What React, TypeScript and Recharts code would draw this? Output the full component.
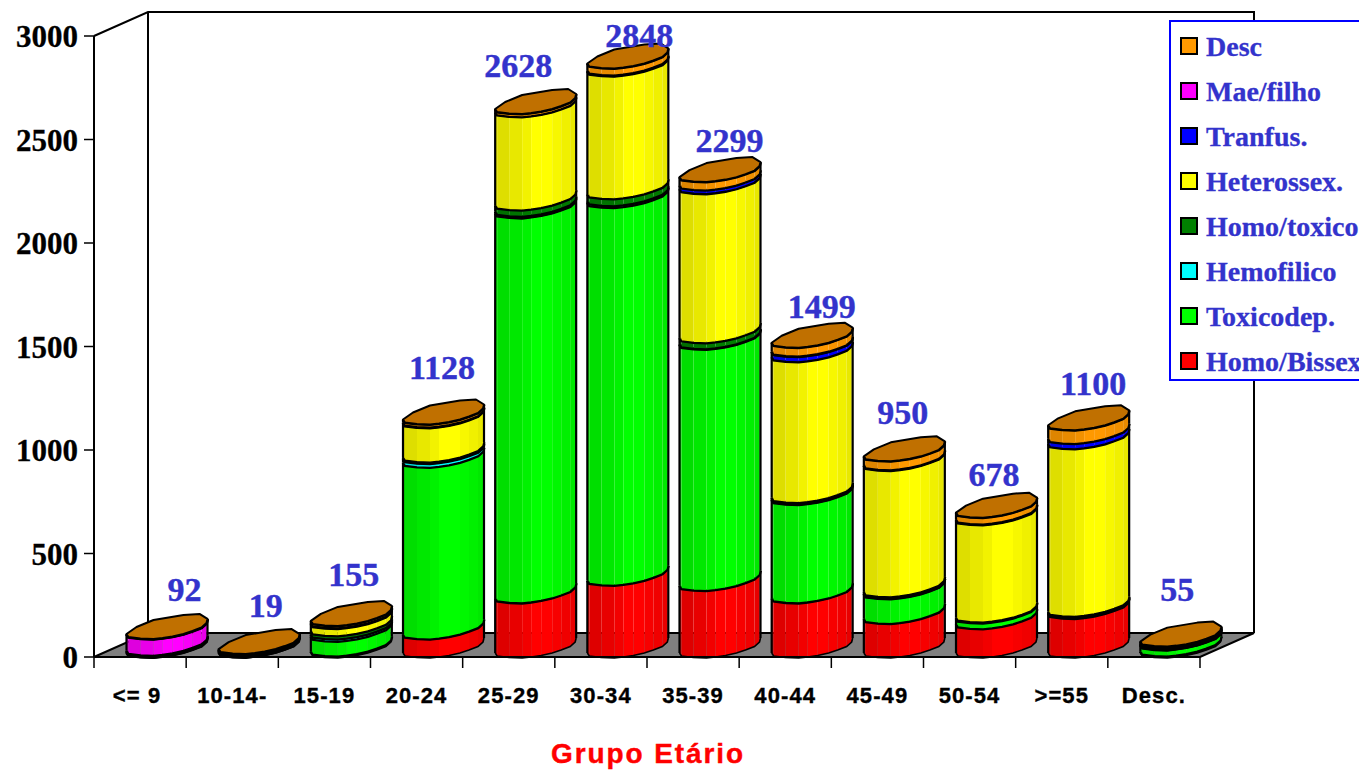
import React from 'react';
import { BarChart, Bar, XAxis, YAxis, Legend, LabelList, Customized } from 'recharts';

const categories = ['<= 9', '10-14-', '15-19', '20-24', '25-29', '30-34', '35-39', '40-44', '45-49', '50-54', '>=55', 'Desc.'];
const totals = [92, 19, 155, 1128, 2628, 2848, 2299, 1499, 950, 678, 1100, 55];
const homoBissex = [0, 0, 8, 90, 265, 350, 325, 265, 165, 140, 190, 8];
const toxicodep = [2, 3, 72, 830, 1860, 1825, 1165, 475, 120, 28, 5, 30];
const hemofilico = [4, 6, 10, 18, 8, 8, 3, 3, 2, 0, 0, 2];
const homoToxico = [0, 0, 16, 8, 30, 34, 29, 7, 8, 4, 5, 5];
const heterossex = [0, 3, 35, 165, 450, 593, 720, 680, 610, 470, 810, 4];
const tranfus = [6, 3, 4, 3, 0, 5, 18, 25, 3, 4, 25, 0];
const maeFilho = [78, 2, 0, 0, 0, 0, 0, 2, 0, 0, 0, 0];
const desc = [2, 2, 10, 14, 15, 33, 39, 42, 42, 32, 65, 6];
const yTicks = [0, 500, 1000, 1500, 2000, 2500, 3000];
const seriesNames = ['Homo/Bissex', 'Toxicodep.', 'Hemofilico', 'Homo/toxico', 'Heterossex.', 'Tranfus.', 'Mae/filho', 'Desc'];
const seriesValues = [homoBissex, toxicodep, hemofilico, homoToxico, heterossex, tranfus, maeFilho, desc];
const seriesColors = ['#ff0000', '#00ff00', '#00ffff', '#008000', '#ffff00', '#0000ff', '#ff00ff', '#ff9900'];
const xTitle = 'Grupo Etário';

const rows = categories.map((c, i) => {
  const r: Record<string, number | string> = { cat: c };
  seriesNames.forEach((n, s) => { r[n] = seriesValues[s][i]; });
  return r;
});

// layout
const L = 94, R = 1200, T = 36, B = 657, DX = 54, DY = 24;
const BAR_SHIFT = 26.5;
const BLUE = '#3333cc';
const SERIF = '"Liberation Serif", serif';
const SANS = '"Liberation Sans", sans-serif';
const CAP = '#c07000';
// label placement relative to bar's left end: [centre offset, rise above top]
const labelNudge = [[58, 37], [47, 36], [43, 39], [39, 45], [23, 36], [52, 20], [50, 29], [50, 29], [39, 36], [38, 31], [45, 34], [37, 45]];

const front = [[0, -4], [2, -1], [14, 0.5], [27, 1], [36, 0], [46, -1.5], [57, -4], [66, -7], [75, -10.5], [80, -15], [81, -19]];
const back = [[73, -24], [57, -23], [27, -18], [10, -11]];
const shade = [0.84, 0.87, 0.91, 0.95, 1, 1, 0.97, 0.94, 0.91, 0.88];

const tint = (hex: string, k: number) => {
  const n = parseInt(hex.slice(1), 16);
  const c = [(n >> 16) & 255, (n >> 8) & 255, n & 255].map((v) => Math.round(v * k));
  return `rgb(${c[0]},${c[1]},${c[2]})`;
};

function Cylinder(props: any) {
  const { x, y, height, fill, isTop } = props;
  if (!(height > 0)) return null;
  const X = x + BAR_SHIFT;
  const edge = (yy: number) => front.map((p) => `${X + p[0]},${yy + p[1]}`).join(' ');
  const capPts = [...front, ...back].map((p) => `${X + p[0]},${y + p[1]}`).join(' ');
  return (
    <g>
      {front.slice(0, -1).map((p, i) => {
        const q = front[i + 1];
        const pts = `${X + p[0]},${y + p[1]} ${X + q[0]},${y + q[1]} ${X + q[0]},${y + height + q[1]} ${X + p[0]},${y + height + p[1]}`;
        return <polygon key={i} points={pts} fill={tint(fill, shade[i])} />;
      })}
      <line x1={X} y1={y - 4} x2={X} y2={y + height - 4} stroke="#000" strokeWidth={2.2} />
      <line x1={X + 81} y1={y - 19} x2={X + 81} y2={y + height - 19} stroke="#000" strokeWidth={2.2} />
      <polyline points={edge(y + height)} fill="none" stroke="#000" strokeWidth={1.6} />
      <polyline points={edge(y)} fill="none" stroke="#000" strokeWidth={3} />
      {isTop && <polygon points={capPts} fill={CAP} stroke="#000" strokeWidth={2} strokeLinejoin="round" />}
    </g>
  );
}

function Room() {
  return (
    <g>
      <polygon points={`${L},${B} ${R},${B} ${R + DX},${B - DY} ${L + DX},${B - DY}`} fill="#808080" stroke="#000" strokeWidth={2} />
      <polyline points={`${L},${T} ${L + DX},${T - DY} ${R + DX},${T - DY} ${R + DX},${B - DY}`} fill="none" stroke="#000" strokeWidth={2} />
      <line x1={L + DX} y1={T - DY} x2={L + DX} y2={B - DY} stroke="#000" strokeWidth={2} />
      <text x={648} y={763} textAnchor="middle" fontFamily={SANS} fontWeight="bold" fontSize={28} fill="#ff0000" stroke="#ff0000" strokeWidth={0.4} letterSpacing={1.9}>{xTitle}</text>
    </g>
  );
}

function XTick(props: any) {
  const { x, y, payload, index } = props;
  const half = (R - L) / categories.length / 2;
  return (
    <g>
      <line x1={x - half} y1={B} x2={x - half} y2={B + 11} stroke="#000" strokeWidth={1.5} />
      {index === categories.length - 1 && <line x1={x + half} y1={B} x2={x + half} y2={B + 11} stroke="#000" strokeWidth={1.5} />}
      <text x={x - (index === 0 ? 3 : 0)} y={y + 38} textAnchor="middle" fontFamily={SANS} fontWeight="bold" fontSize={22} letterSpacing={1.1} fill="#000" stroke="#000" strokeWidth={0.35}>{payload.value}</text>
    </g>
  );
}

function YTick(props: any) {
  const { x, y, payload } = props;
  return (
    <text x={x} y={y + 11} textAnchor="end" fontFamily={SERIF} fontWeight="bold" fontSize={31} fill="#000" stroke="#000" strokeWidth={0.3}>{payload.value}</text>
  );
}

function TotalLabel(props: any) {
  const { x, y, index } = props;
  const [dx, rise] = labelNudge[index];
  return (
    <text x={x + BAR_SHIFT + dx} y={y - rise} textAnchor="middle" fontFamily={SERIF} fontWeight="bold" fontSize={34} fill={BLUE} stroke={BLUE} strokeWidth={0.4}>{totals[index]}</text>
  );
}

function LegendBox() {
  const items = [...seriesNames].map((n, i) => ({ n, c: seriesColors[i] })).reverse();
  return (
    <div style={{ width: 200, height: 361, boxSizing: 'border-box', border: '2px solid #0000ff', background: '#fff', position: 'relative', overflow: 'hidden' }}>
      {items.map((it, i) => (
        <div key={it.n}>
          <div style={{ position: 'absolute', left: 9, top: 15 + i * 45, width: 18, height: 18, boxSizing: 'border-box', border: '2px solid #000', background: it.c }} />
          <div style={{ position: 'absolute', left: 35, top: 9 + i * 45, fontFamily: SERIF, fontWeight: 'bold', fontSize: 28, lineHeight: '32px', color: BLUE, whiteSpace: 'nowrap', WebkitTextStroke: '0.3px #3333cc' }}>{it.n}</div>
        </div>
      ))}
    </div>
  );
}

export default function App() {
  return (
    <div style={{ position: 'absolute', left: 0, top: 0, width: 1359, height: 770, overflow: 'hidden', background: '#fff' }}>
      <BarChart width={1359} height={770} data={rows} margin={{ left: 14, right: 1359 - R, top: T, bottom: 0 }} barSize={81} barCategoryGap={0}>
        <Customized component={Room} />
        <XAxis dataKey="cat" height={770 - B} interval={0} tickLine={false} axisLine={{ stroke: '#000', strokeWidth: 2 }} tick={<XTick />} />
        <YAxis width={80} domain={[0, 3000]} ticks={yTicks} tickSize={10} tickMargin={6} interval={0} axisLine={{ stroke: '#000', strokeWidth: 2 }} tickLine={{ stroke: '#000', strokeWidth: 1.5 }} tick={<YTick />} />
        <Legend layout="vertical" align="center" verticalAlign="middle" content={<LegendBox />} wrapperStyle={{ left: 1169, top: 20, width: 200 }} />
        {seriesNames.map((n, s) => (
          <Bar key={n} dataKey={n} name={n} stackId="a" fill={seriesColors[s]} isAnimationActive={false}
            shape={(p: any) => <Cylinder {...p} isTop={s === seriesNames.length - 1} />}>
            {s === seriesNames.length - 1 && <LabelList dataKey={n} content={<TotalLabel />} />}
          </Bar>
        ))}
      </BarChart>
    </div>
  );
}
